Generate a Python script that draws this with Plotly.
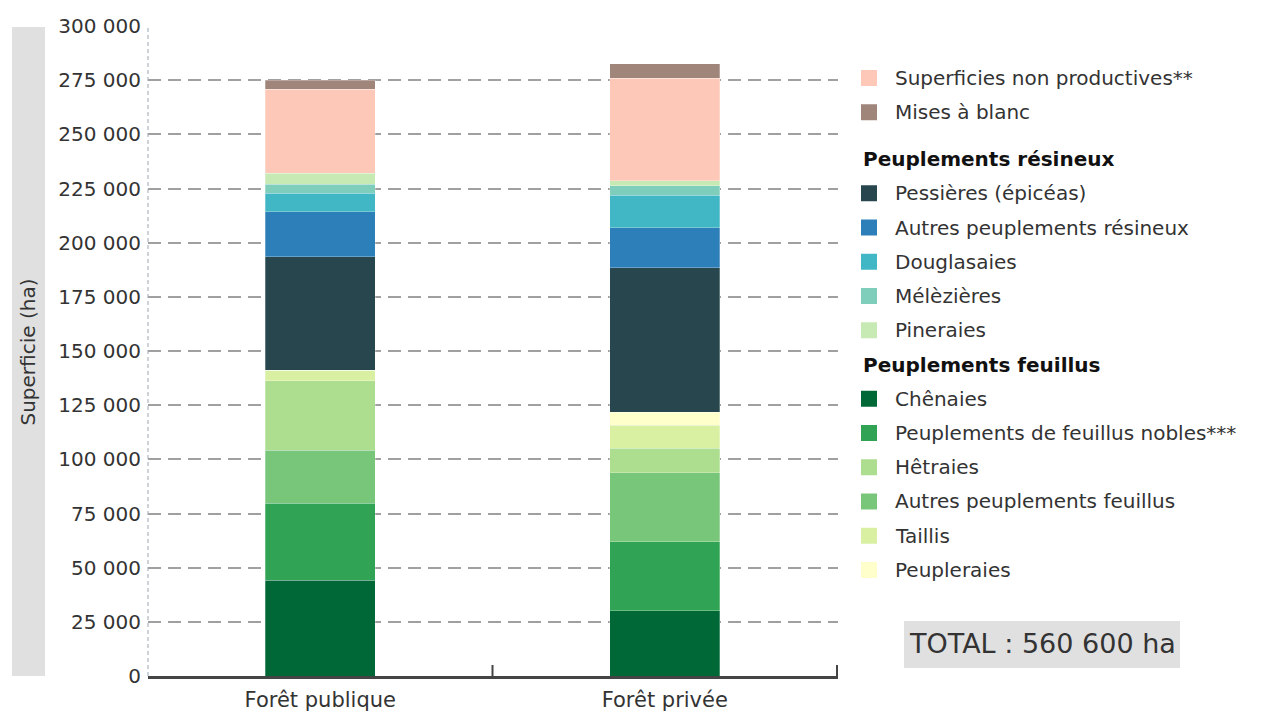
import plotly.graph_objects as go

# Surface des forêts par type de propriété (ha)
categories = ["Forêt publique", "Forêt privée"]

chenaies = [44300, 30100]
feuillus_nobles = [35400, 31900]
autres_feuillus = [24600, 31800]
hetraies = [31900, 11300]
taillis = [4900, 10700]
peupleraies = [0, 5900]
pessieres = [52500, 66800]
autres_resineux = [20700, 18500]
douglasaies = [8500, 15000]
melezieres = [4200, 4300]
pineraies = [5000, 2300]
non_productives = [38900, 47200]
mises_a_blanc = [4100, 6700]

y_ticks = list(range(0, 300001, 25000))
total_label = "TOTAL : 560 600 ha"

# (nom, valeurs, couleur) in stacking order, bottom to top
stack = [
    ("Chênaies", chenaies, "#006837"),
    ("Peuplements de feuillus nobles***", feuillus_nobles, "#31a354"),
    ("Autres peuplements feuillus", autres_feuillus, "#78c679"),
    ("Hêtraies", hetraies, "#addd8e"),
    ("Taillis", taillis, "#d9f0a3"),
    ("Peupleraies", peupleraies, "#ffffcc"),
    ("Pessières (épicéas)", pessieres, "#27464e"),
    ("Autres peuplements résineux", autres_resineux, "#2c7fb8"),
    ("Douglasaies", douglasaies, "#41b6c4"),
    ("Mélèzières", melezieres, "#7fcdbb"),
    ("Pineraies", pineraies, "#c7e9b4"),
    ("Superficies non productives**", non_productives, "#fec8b8"),
    ("Mises à blanc", mises_a_blanc, "#a0857b"),
]
colors = {name: col for name, _, col in stack}

# legend layout: None = spacer, ("title", text) = bold group heading
legend_rows = [
    "Superficies non productives**",
    "Mises à blanc",
    None,
    ("title", "Peuplements résineux"),
    "Pessières (épicéas)",
    "Autres peuplements résineux",
    "Douglasaies",
    "Mélèzières",
    "Pineraies",
    ("title", "Peuplements feuillus"),
    "Chênaies",
    "Peuplements de feuillus nobles***",
    "Hêtraies",
    "Autres peuplements feuillus",
    "Taillis",
    "Peupleraies",
]

W, H = 1266, 714
L, R, T, B = 148, 838, 26, 676
FONT = "DejaVu Sans"
FS = 20


def px(x):
    return (x - L) / (R - L)


def py(y):
    return (B - y) / (B - T)


fig = go.Figure()
for name, vals, col in stack:
    fig.add_trace(go.Bar(
        x=categories, y=vals, name=name,
        marker=dict(color=col, line=dict(width=0.6, color="rgba(255,255,255,0.45)")),
        width=0.32, showlegend=False,
    ))

shapes = []
annotations = []

# grey band behind the y-axis title
shapes.append(dict(type="rect", xref="paper", yref="paper",
                   x0=px(12), x1=px(45), y0=py(676), y1=py(27),
                   fillcolor="#e0e0e0", line=dict(width=0), layer="below"))
annotations.append(dict(xref="paper", yref="paper", x=px(27.5), y=py(352),
                        xanchor="center", yanchor="middle",
                        text="Superficie (ha)", textangle=-90, showarrow=False,
                        font=dict(family=FONT, size=FS, color="#333333")))

# dashed vertical y-axis line
shapes.append(dict(type="line", xref="paper", yref="paper", x0=0, x1=0, y0=0, y1=1,
                   line=dict(color="#9aa6b2", width=1, dash="4px,3px")))

# category boundary ticks on the x axis
for i in range(1, len(categories) + 1):
    shapes.append(dict(type="line", xref="x", yref="paper", x0=i - 0.5, x1=i - 0.5,
                       y0=0, y1=py(665), line=dict(color="#444444", width=2)))

# legend drawn from the row list
y = 78.0
step = 34.25
for row in legend_rows:
    if row is None:
        y += 12.5
        continue
    if isinstance(row, tuple):
        annotations.append(dict(xref="paper", yref="paper", x=px(861), y=py(y),
                                xanchor="left", yanchor="middle", showarrow=False,
                                text="<b>%s</b>" % row[1],
                                font=dict(family=FONT, size=FS, color="#111111")))
    else:
        shapes.append(dict(type="rect", xref="paper", yref="paper",
                           x0=px(861), x1=px(877), y0=py(y + 8), y1=py(y - 8),
                           fillcolor=colors[row], line=dict(width=0)))
        annotations.append(dict(xref="paper", yref="paper", x=px(893), y=py(y),
                                xanchor="left", yanchor="middle", showarrow=False,
                                text=row,
                                font=dict(family=FONT, size=FS, color="#333333")))
    y += step

# total box
shapes.append(dict(type="rect", xref="paper", yref="paper",
                   x0=px(904), x1=px(1180), y0=py(668), y1=py(621),
                   fillcolor="#e0e0e0", line=dict(width=0)))
annotations.append(dict(xref="paper", yref="paper", x=px(1042), y=py(643),
                        xanchor="center", yanchor="middle",
                        text=total_label, showarrow=False,
                        font=dict(family=FONT, size=27, color="#333333")))

fig.update_layout(
    width=W, height=H,
    margin=dict(l=L, r=W - R, t=T, b=H - B, pad=0, autoexpand=False),
    barmode="stack",
    plot_bgcolor="white", paper_bgcolor="white",
    separators=", ",
    font=dict(family=FONT, size=FS, color="#333333"),
    shapes=shapes, annotations=annotations,
    showlegend=False,
)
fig.update_xaxes(
    automargin=False,
    showline=True, linecolor="#444444", linewidth=2.5,
    ticks="", showgrid=False,
    tickfont=dict(family=FONT, size=21, color="#333333"),
    ticklabelstandoff=3,
)
fig.update_yaxes(
    automargin=False,
    range=[0, 300000], tickvals=y_ticks, tickformat=",d",
    showgrid=True, gridcolor="#a0a0a0", gridwidth=1.6, griddash="13px,7px",
    zeroline=False, showline=False, ticks="",
    tickfont=dict(family=FONT, size=FS, color="#333333"),
    ticklabelstandoff=6,
)

fig.write_html("out.html")
